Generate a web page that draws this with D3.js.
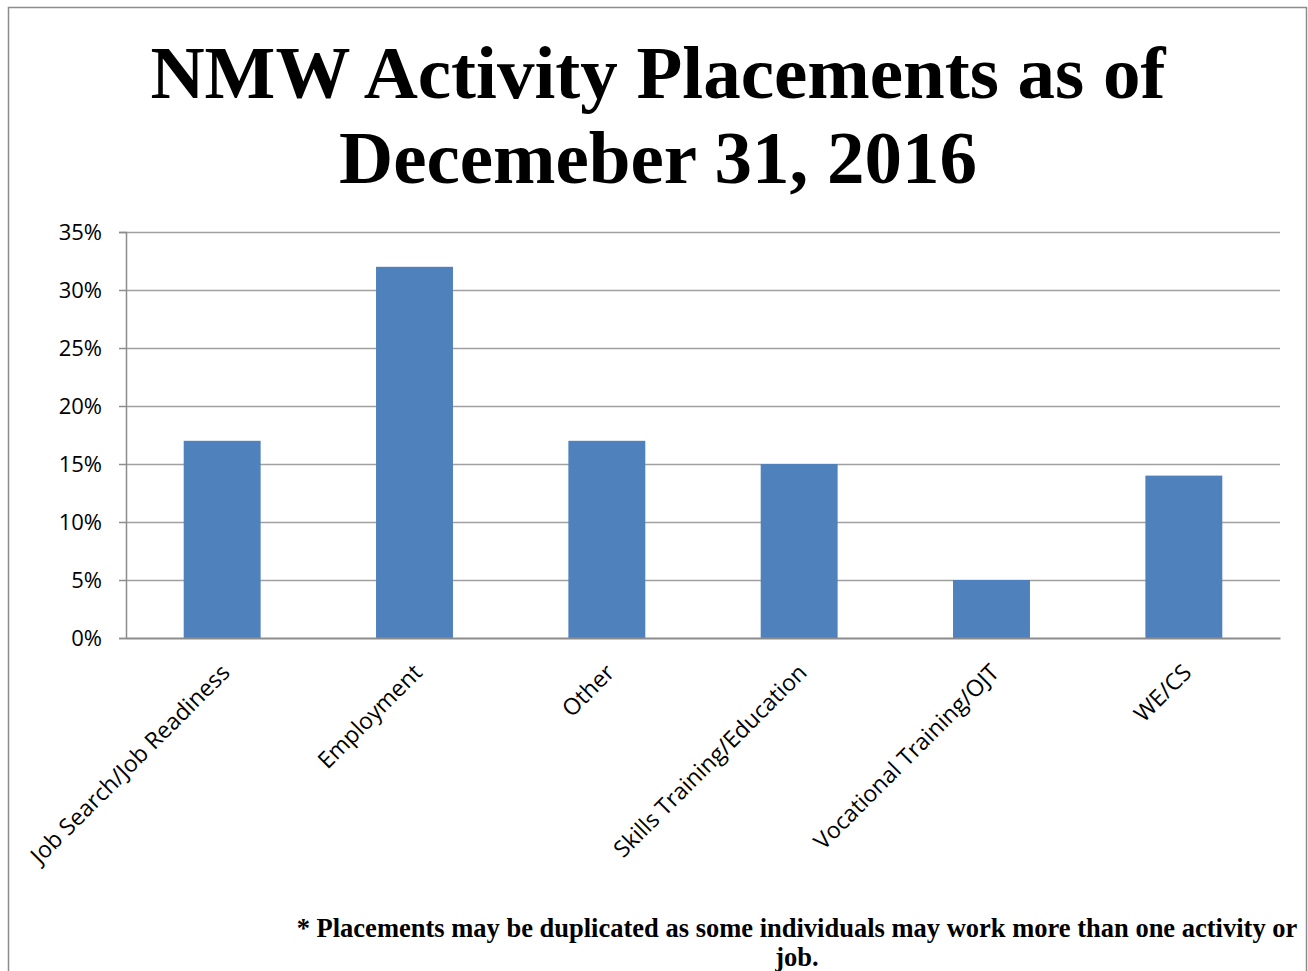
<!DOCTYPE html>
<html>
<head>
<meta charset="utf-8">
<script src="https://cdn.jsdelivr.net/npm/d3@7"></script>
<style>
  body { margin: 0; background: #fff; }
  svg { display: block; }
</style>
</head>
<body>
<svg id="chart" width="1308" height="971"></svg>
<script>
// chart data
const categories = ["Job Search/Job Readiness", "Employment", "Other", "Skills Training/Education", "Vocational Training/OJT", "WE/CS"]
const values = [0.17, 0.32, 0.17, 0.15, 0.05, 0.14]
const yTicks = [0, 0.05, 0.10, 0.15, 0.20, 0.25, 0.30, 0.35]
const titleLines = ["NMW Activity Placements as of", "Decemeber 31, 2016"]
const noteLines = ["* Placements may be duplicated as some individuals may work more than one activity or", "job."]

const svg = d3.select("#chart")

// outer frame
svg.append("rect")
    .attr("x", 8.5).attr("y", 7.5)
    .attr("width", 1298).attr("height", 980)
    .attr("fill", "none")
    .attr("stroke", "#8c8c8c")
    .attr("stroke-width", 1.5)

let margin = { left: 126, right: 1280, top: 232, bottom: 638 }

let x = d3.scaleBand()
    .domain(categories)
    .range([margin.left, margin.right])
    .paddingInner(0.6)
    .paddingOuter(0.3)

let y = d3.scaleLinear()
    .domain([0, 0.35])
    .range([margin.bottom, margin.top])

// gridlines
svg.append("g")
    .selectAll("line")
    .data(yTicks.filter(d => d > 0))
    .join("line")
    .attr("x1", margin.left)
    .attr("x2", margin.right)
    .attr("y1", d => y(d) + 0.5)
    .attr("y2", d => y(d) + 0.5)
    .attr("stroke", "#a0a0a0")
    .attr("stroke-width", 1.5)

// bars
svg.append("g")
    .selectAll("rect")
    .data(values)
    .join("rect")
    .attr("x", (d, i) => x(categories[i]))
    .attr("y", d => y(d))
    .attr("width", x.bandwidth())
    .attr("height", d => y(0) - y(d))
    .attr("fill", "#4f81bd")

// y axis
let yAxis = d3.axisLeft(y)
    .tickValues(yTicks)
    .tickFormat(d3.format(".0%"))
    .tickSize(7)
    .tickPadding(17)

let yg = svg.append("g")
    .attr("transform", `translate(${margin.left},0)`)
    .call(yAxis)
yg.select(".domain").attr("stroke", "#8c8c8c").attr("stroke-width", 1.5)
yg.selectAll(".tick line").attr("stroke", "#8c8c8c").attr("stroke-width", 1.5)
yg.selectAll(".tick text")
    .attr("font-family", "'Open Sans', sans-serif")
    .attr("font-size", 22)
    .attr("fill", "#000")

// x axis
let xAxis = d3.axisBottom(x).tickSize(0).tickPadding(0)
let xg = svg.append("g")
    .attr("transform", `translate(0,${margin.bottom})`)
    .call(xAxis)
xg.select(".domain").attr("stroke", "#8c8c8c").attr("stroke-width", 2)
xg.selectAll(".tick text")
    .attr("font-family", "'Open Sans', sans-serif")
    .attr("font-size", 23)
    .attr("fill", "#000")
    .attr("text-anchor", "end")
    .attr("dy", 0)
    .attr("transform", "translate(9,36) rotate(-45)")

// title
svg.append("text")
    .attr("x", 658)
    .attr("y", 98)
    .attr("text-anchor", "middle")
    .attr("font-family", "'Liberation Serif', 'Times New Roman', serif")
    .attr("font-weight", "bold")
    .attr("font-size", 75)
    .selectAll("tspan")
    .data(titleLines)
    .join("tspan")
    .attr("x", 658)
    .attr("dy", (d, i) => i == 0 ? 0 : 85)
    .text(d => d)

// footnote
svg.append("text")
    .attr("x", 797)
    .attr("y", 937)
    .attr("text-anchor", "middle")
    .attr("font-family", "'Liberation Serif', 'Times New Roman', serif")
    .attr("font-weight", "bold")
    .attr("font-size", 26.5)
    .selectAll("tspan")
    .data(noteLines)
    .join("tspan")
    .attr("x", 797)
    .attr("dy", (d, i) => i == 0 ? 0 : 29)
    .text(d => d)
</script>
</body>
</html>
